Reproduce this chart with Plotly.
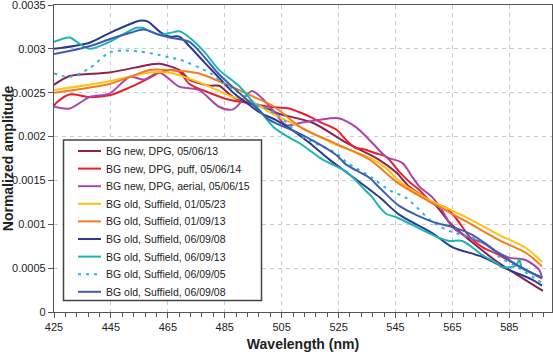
import plotly.graph_objects as go

# ---- data (wavelength nm, amplitude x1e-3) ----
names = [
    "BG new, DPG, 05/06/13",
    "BG new, DPG, puff, 05/06/14",
    "BG new, DPG, aerial, 05/06/15",
    "BG old, Suffield, 01/05/23",
    "BG old, Suffield, 01/09/13",
    "BG old, Suffield, 06/09/08",
    "BG old, Suffield, 06/09/13",
    "BG old, Suffield, 06/09/05",
    "BG old, Suffield, 06/09/08",
]

x_dpg13 = [425, 430.5, 444.5, 458.6, 462, 469, 472.6, 479.6, 483, 488, 500.7, 504, 515.7, 527.7, 539, 545.3, 549.8, 559, 564, 571, 580, 586, 596.8]
y_dpg13 = [2.59, 2.69, 2.73, 2.82, 2.83, 2.76, 2.65, 2.58, 2.58, 2.45, 2.31, 2.26, 2.16, 1.93, 1.74, 1.59, 1.43, 1.22, 1.02, 0.82, 0.59, 0.46, 0.24]

x_puff = [425, 426, 430.5, 437.5, 444.5, 451.6, 458.6, 462, 466, 469, 472.6, 479.6, 486.6, 493.7, 500.7, 507.6, 511, 514.7, 518.2, 524.2, 527.7, 531, 533.3, 538, 541.7, 546.3, 550, 553.4, 558, 562.7, 566, 571, 575.5, 581.4, 587.4, 596.5]
y_puff = [2.35, 2.39, 2.48, 2.45, 2.47, 2.56, 2.67, 2.73, 2.76, 2.74, 2.60, 2.50, 2.42, 2.38, 2.34, 2.32, 2.28, 2.23, 2.17, 2.08, 1.96, 1.87, 1.86, 1.81, 1.77, 1.60, 1.48, 1.39, 1.24, 1.19, 1.08, 0.86, 0.74, 0.65, 0.54, 0.38]

x_aerial = [425, 430.5, 437.5, 444.5, 451.6, 456.6, 462, 469, 476, 483, 488, 494.5, 498, 502.4, 506.6, 512, 518, 525, 531, 536.8, 541.7, 547.4, 550.9, 553.4, 557.9, 561.4, 564.9, 569.9, 575.5, 581.4, 584.9, 590.9, 595.5, 596.5]
y_aerial = [2.34, 2.32, 2.45, 2.49, 2.68, 2.65, 2.73, 2.57, 2.53, 2.34, 2.31, 2.52, 2.44, 2.28, 2.13, 2.16, 2.19, 2.21, 2.11, 1.93, 1.77, 1.70, 1.54, 1.43, 1.31, 1.16, 0.97, 0.86, 0.79, 0.67, 0.62, 0.59, 0.48, 0.39]

x_s0105 = [425, 444.5, 458.6, 465, 476, 488, 494.7, 500.7, 512, 524, 535.8, 541.7, 546.3, 551, 557.9, 569.9, 581.4, 590.9, 596.5]
y_s0105 = [2.53, 2.63, 2.73, 2.73, 2.62, 2.45, 2.40, 2.28, 2.10, 1.91, 1.76, 1.64, 1.49, 1.39, 1.26, 1.08, 0.88, 0.73, 0.57]

x_s0109 = [425, 444.5, 451.6, 458.6, 465.6, 476, 486.6, 495.4, 502.4, 512, 524, 535.8, 546, 558, 570, 581.4, 591, 596.5]
y_s0109 = [2.50, 2.60, 2.68, 2.76, 2.76, 2.72, 2.58, 2.45, 2.34, 2.10, 1.92, 1.74, 1.47, 1.24, 1.03, 0.82, 0.67, 0.52]

x_s0608a = [425, 437.5, 444.5, 451.6, 455, 458, 462, 465.6, 469, 472.6, 478, 483, 488, 493.7, 497, 503.5, 507.6, 514.7, 521.7, 528.7, 539.3, 546.3, 557.9, 564.9, 575.5, 584.9, 593, 596.5]
y_s0608a = [3.00, 3.07, 3.18, 3.28, 3.32, 3.31, 3.20, 3.14, 3.14, 3.03, 2.84, 2.67, 2.50, 2.36, 2.28, 2.18, 2.10, 1.93, 1.74, 1.57, 1.31, 1.11, 0.90, 0.74, 0.63, 0.48, 0.37, 0.30]

x_s0613 = [425, 430.5, 433, 437.5, 444.5, 449, 454, 456, 462, 465.6, 469, 472.6, 478, 483, 490.2, 497.2, 502.4, 507.6, 512, 519.3, 527.7, 534.6, 536.8, 539.3, 541.7, 545.3, 552.3, 559.3, 563.9, 568.5, 575.5, 580.4, 582.5, 587.4, 588.5, 589.5, 596.5]
y_s0613 = [3.08, 3.13, 3.08, 3.00, 3.08, 3.16, 3.24, 3.24, 3.16, 3.18, 3.20, 3.13, 2.96, 2.76, 2.57, 2.30, 2.10, 1.99, 1.91, 1.74, 1.60, 1.38, 1.31, 1.20, 1.12, 1.08, 0.97, 0.86, 0.81, 0.81, 0.65, 0.56, 0.51, 0.53, 0.60, 0.50, 0.40]

x_s0605 = [425, 430.5, 437.5, 444.5, 449, 455, 462, 465.6, 469, 479.6, 483, 494.7, 504.2, 512.2, 524.2, 527.7, 536.8, 542.8, 548.8, 557.9, 564.9, 570.9, 576.9, 581.4, 587.4, 596.5]
y_s0605 = [2.72, 2.68, 2.78, 2.96, 2.98, 2.97, 2.93, 2.90, 2.88, 2.73, 2.65, 2.40, 2.23, 2.00, 1.81, 1.71, 1.53, 1.39, 1.30, 1.03, 0.91, 0.86, 0.77, 0.63, 0.52, 0.33]

x_s0608b = [425, 437.5, 444.5, 451.6, 456.5, 462, 465.6, 472.6, 478, 483, 490, 497, 500.7, 512.2, 524.2, 527.7, 535.8, 539.3, 546.3, 557.9, 564.9, 572, 581.4, 588.5, 596.5]
y_s0608b = [2.94, 3.03, 3.11, 3.18, 3.22, 3.16, 3.13, 3.08, 2.90, 2.71, 2.50, 2.30, 2.19, 2.02, 1.79, 1.68, 1.53, 1.42, 1.21, 1.03, 0.97, 0.88, 0.67, 0.52, 0.39]

x_ticks = [425, 445, 465, 485, 505, 525, 545, 565, 585]
y_ticks = [0, 0.0005, 0.001, 0.0015, 0.002, 0.0025, 0.003, 0.0035]
y_ticktext = ["0", "0.0005", "0.001", "0.0015", "0.002", "0.0025", "0.003", "0.0035"]

series = [
    (x_dpg13, y_dpg13, "#8B2252", "solid"),
    (x_puff, y_puff, "#E8202A", "solid"),
    (x_aerial, y_aerial, "#AA45AA", "solid"),
    (x_s0105, y_s0105, "#FFC20E", "solid"),
    (x_s0109, y_s0109, "#F47B20", "solid"),
    (x_s0608a, y_s0608a, "#2B3990", "solid"),
    (x_s0613, y_s0613, "#1CB5B5", "solid"),
    (x_s0605, y_s0605, "#27B4E8", "3px,5px"),
    (x_s0608b, y_s0608b, "#3B5FAE", "solid"),
]

W, H = 553, 356
ML, MR, MT, MB = 54, 1, 5, 44
PW, PH = W - ML - MR, H - MT - MB

def px_x(p):
    return (p - ML) / PW

def px_y(p):
    return (H - MB - p) / PH

fig = go.Figure()
for name, (xs, ys, color, dash) in zip(names, series):
    fig.add_trace(go.Scatter(
        x=xs, y=[v / 1000 for v in ys], name=name, mode="lines",
        line=dict(color=color, width=2, dash=dash, shape="spline", smoothing=0.8),
    ))

# legend box drawn as shapes + annotations (matching the reference's compact spacing)
shapes = [dict(type="rect", xref="paper", yref="paper",
               x0=px_x(63.5), x1=px_x(261.5), y0=px_y(300.5), y1=px_y(140),
               fillcolor="white", line=dict(color="#444", width=1.5), layer="above")]
annotations = []
for i, (name, (xs, ys, color, dash)) in enumerate(zip(names, series)):
    row = 151 + 17.6 * i
    shapes.append(dict(type="line", xref="paper", yref="paper",
                       x0=px_x(78), x1=px_x(101), y0=px_y(row), y1=px_y(row),
                       line=dict(color=color, width=2, dash=dash), layer="above"))
    annotations.append(dict(xref="paper", yref="paper", x=px_x(103.5), y=px_y(row),
                            xanchor="left", yanchor="middle", showarrow=False,
                            text=name, font=dict(size=10.5, color="#222")))

axis_font = dict(family="Liberation Sans, Arial, sans-serif", size=11, color="#222")

fig.update_layout(
    width=W, height=H,
    margin=dict(l=ML, r=MR, t=MT, b=MB),
    paper_bgcolor="white", plot_bgcolor="white",
    font=dict(family="Liberation Sans, Arial, sans-serif", size=11, color="#222"),
    showlegend=False,
    shapes=shapes,
    annotations=annotations,
    xaxis=dict(
        range=[425, 600], tickvals=x_ticks, ticks="outside", ticklen=5,
        tickcolor="#555", tickfont=axis_font, automargin=False,
        showgrid=True, gridcolor="#cccccc", griddash="4px,4px", gridwidth=1,
        showline=True, linecolor="#555", linewidth=1.2, mirror=True,
        zeroline=False,
        minor=dict(dtick=4, tick0=425, ticks="outside", ticklen=4, tickcolor="#555", showgrid=False),
        title=dict(text="<b>Wavelength (nm)</b>", font=dict(size=14, color="#222"), standoff=6),
    ),
    yaxis=dict(
        range=[0, 0.0035000001], tickvals=y_ticks, ticktext=y_ticktext,
        ticks="outside", ticklen=5, tickcolor="#555", tickfont=axis_font, automargin=False,
        ticklabeloverflow="allow",
        showgrid=True, gridcolor="#cccccc", griddash="4px,4px", gridwidth=1,
        showline=True, linecolor="#555", linewidth=1.2, mirror=True,
        zeroline=False,
        title=dict(text="<b>Normalized amplitude</b>", font=dict(size=14, color="#222"), standoff=6),
    ),
)

fig.write_html("out.html", config={"displayModeBar": False},
               post_script="document.body.style.margin='0';")
